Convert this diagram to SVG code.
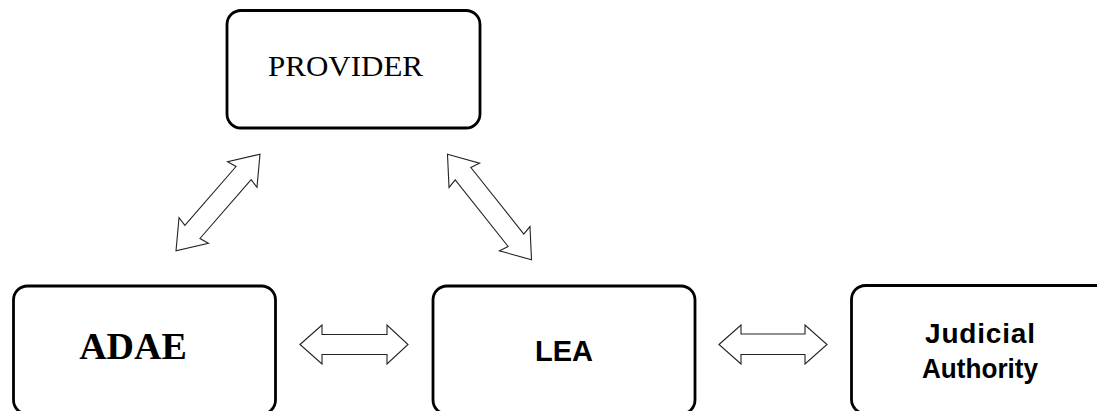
<svg xmlns="http://www.w3.org/2000/svg" width="1097" height="411" viewBox="0 0 1097 411">
<style>
.box{fill:#fff;stroke:#000;stroke-width:2.8}
.arr{fill:#fff;stroke:#222;stroke-width:1.1;stroke-linejoin:miter}
.serif{font-family:"Liberation Serif","Times New Roman",serif;fill:#000}
.sans{font-family:"Liberation Sans",Arial,sans-serif;font-weight:bold;fill:#000}
</style>
<rect width="1097" height="411" fill="#fff"/>
<g id="connectors">
<path class="arr" d="M300,344.5 L322,325 L322,334.5 L387,334.5 L387,325 L408,344.5 L387,364 L387,354.5 L322,354.5 L322,364 Z"/>
<path class="arr" d="M719,344.5 L741,325 L741,334 L805,334 L805,325 L827,344.5 L805,364 L805,354.5 L741,354.5 L741,364 Z"/>
<path class="arr" transform="translate(218,202.5) rotate(-49)" d="M-64,0 L-37,-19.5 L-39,-10 L39,-10 L37,-19.5 L64,0 L37,19.5 L39,10 L-39,10 L-37,19.5 Z"/>
<path class="arr" transform="translate(489.5,207) rotate(51.5)" d="M-67.5,0 L-40.5,-19.5 L-42.5,-10 L42.5,-10 L40.5,-19.5 L67.5,0 L40.5,19.5 L42.5,10 L-42.5,10 L-40.5,19.5 Z"/>
</g>
<g id="provider">
<rect class="box" x="227" y="10.5" width="253" height="117.5" rx="14"/>
<text class="serif" x="268" y="76" font-size="29" textLength="155" lengthAdjust="spacingAndGlyphs">PROVIDER</text>
</g>
<g id="adae">
<rect class="box" x="13.5" y="286" width="262" height="128" rx="14"/>
<text class="serif" x="133" y="359" font-size="38" font-weight="bold" text-anchor="middle">ADAE</text>
</g>
<g id="lea">
<rect class="box" x="433" y="286" width="262" height="128" rx="14"/>
<text class="sans" x="564" y="361" font-size="29" text-anchor="middle">LEA</text>
</g>
<g id="judicial">
<rect class="box" x="851.5" y="285.5" width="270" height="128" rx="14"/>
<text class="sans" x="925" y="343" font-size="28" textLength="110" lengthAdjust="spacing">Judicial</text>
<text class="sans" x="922" y="378" font-size="27" textLength="116" lengthAdjust="spacingAndGlyphs">Authority</text>
</g>
</svg>
